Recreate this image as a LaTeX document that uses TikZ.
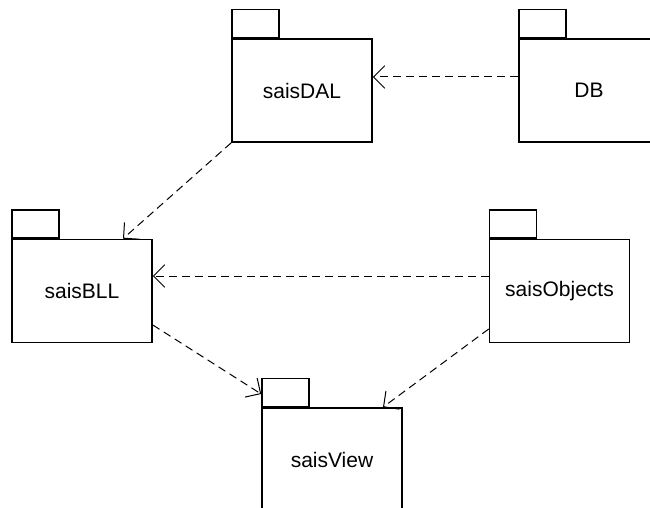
\documentclass[tikz,border=0pt]{standalone}
\usepackage{fontspec}
\setmainfont{Liberation Sans}
\usetikzlibrary{arrows.meta}
\begin{document}
\begin{tikzpicture}[x=1pt,y=-1pt,
  pkgbody/.style={draw, line width=1.6pt, fill=white, minimum width=140pt, minimum height=103pt, inner sep=0pt, font=\fontsize{21}{25}\selectfont},
  pkgtab/.style={draw, line width=1.6pt, fill=white, minimum width=47pt, minimum height=28pt, inner sep=0pt, anchor=south west},
  dep/.style={line width=1pt, dash pattern=on 8pt off 5pt, -{Straight Barb[length=11.3pt,width=22.6pt,line width=1pt]}}
]
\clip (0,0) rectangle (650,508);
\fill[white] (0,0) rectangle (650,508);
% packages
\node[pkgbody] (dal) at (302,90.5) {saisDAL};
\node[pkgtab] (daltab) at (dal.north west) {};
\node[pkgbody] (db) at (589,90.5) {DB};
\node[pkgtab] (dbtab) at (db.north west) {};
\node[pkgbody] (bll) at (82,291) {saisBLL};
\node[pkgtab] (blltab) at (bll.north west) {};
\node[pkgbody] (obj) at (559.5,291) {saisObjects};
\node[pkgtab] (objtab) at (obj.north west) {};
\node[pkgbody] (view) at (332,459.5) {saisView};
\node[pkgtab] (viewtab) at (view.north west) {};
% dependencies
\draw[dep] (db.west |- 0,77) -- (dal.east |- 0,77);
\draw[dep] (dal.south west) -- (bll.north -| 123,0);
\draw[dep] (obj.west |- 0,276) -- (bll.east |- 0,276);
\draw[dep] (bll.east |- 0,325) -- (viewtab.west |- 0,394);
\draw[dep] (obj.west |- 0,329) -- (view.north -| 383,0);
\end{tikzpicture}
\end{document}
